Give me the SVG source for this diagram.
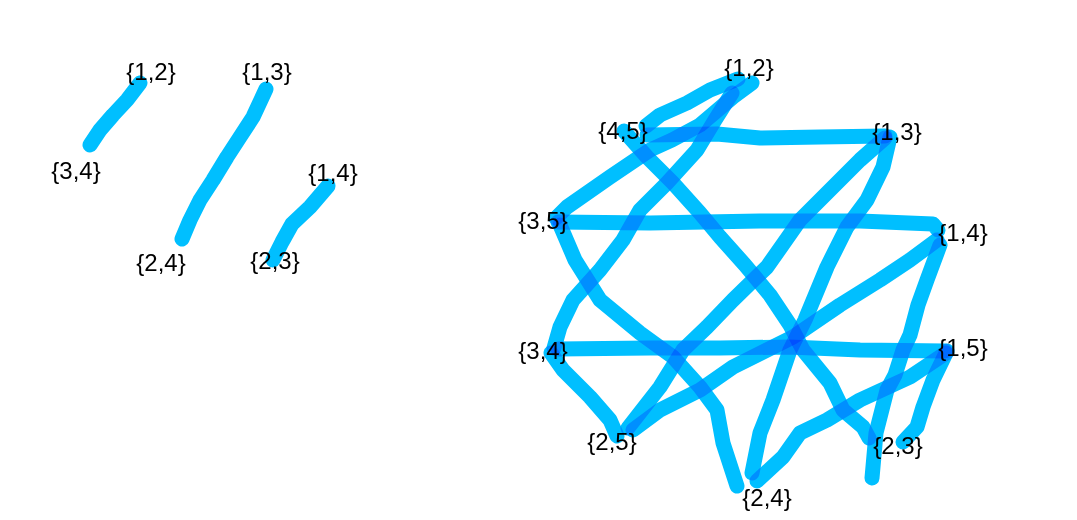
<svg xmlns="http://www.w3.org/2000/svg" width="1077" height="520" viewBox="0 0 1077 520">
<style>
.e{fill:none;stroke:#00BFFF;stroke-width:15;stroke-linecap:round;stroke-linejoin:round;mix-blend-mode:multiply}
.t{font-family:"Liberation Sans",Arial,sans-serif;font-size:24px;fill:#000;text-anchor:middle}
</style>
<rect width="1077" height="520" fill="#fff"/>
<g id="connectors">
<!-- left K(4,2) -->
<polyline class="e" points="140,83 127,100 113,115 100,130 90,145"/>
<polyline class="e" points="266,89 253,117 240,137 227,157 213,180 200,200 190,220 182,239"/>
<polyline class="e" points="328,186 310,207 292,224 282,242 273,260"/>
<!-- right Petersen -->
<polyline class="e" points="732,93 715,120 697,150 667,183 640,210 623,240 600,270 573,300 560,327 554,348"/>
<polyline class="e" points="752,83 733,97 700,125 672,140 650,150 610,177 567,207 556,218"/>
<polyline class="e" points="646,126 660,115 687,103 710,90 738,79"/>
<polyline class="e" points="890,137 883,167 867,200 847,227 827,267 805,320 790,350 773,400 760,433 752,473"/>
<polyline class="e" points="885,138 860,160 827,193 800,220 767,267 733,300 707,327 683,350 660,387 628,428"/>
<polyline class="e" points="647,135 717,134 760,138 820,137 885,136"/>
<polyline class="e" points="940,245 927,280 918,305 910,335 903,350 895,375 887,390 876,433 872,478"/>
<polyline class="e" points="937,240 910,260 880,280 840,305 793,337 733,367 700,390 660,410 633,430"/>
<polyline class="e" points="558,222 650,223 760,221 860,221 933,224 938,230"/>
<polyline class="e" points="947,351 933,380 923,407 917,427 903,442"/>
<polyline class="e" points="946,353 910,377 860,400 827,420 800,433 783,457 757,481"/>
<polyline class="e" points="558,349 650,348 720,348 790,347 860,350 945,351"/>
<polyline class="e" points="624,131 647,157 673,183 700,213 720,237 745,265 770,295 790,325 803,350 830,383 843,410 863,427 869,438"/>
<polyline class="e" points="560,225 575,260 600,300 640,333 673,357 700,387 717,410 723,443 737,486"/>
<polyline class="e" points="551,353 563,370 590,397 610,420 617,436"/>
</g>
<g id="n-l12"><text class="t" x="151" y="80">{1,2}</text></g>
<g id="n-l13"><text class="t" x="267" y="80">{1,3}</text></g>
<g id="n-l34"><text class="t" x="76" y="179">{3,4}</text></g>
<g id="n-l14"><text class="t" x="333" y="181">{1,4}</text></g>
<g id="n-l24"><text class="t" x="161" y="271">{2,4}</text></g>
<g id="n-l23"><text class="t" x="275" y="269">{2,3}</text></g>
<g id="n-r12"><text class="t" x="749" y="76">{1,2}</text></g>
<g id="n-r45"><text class="t" x="623" y="139">{4,5}</text></g>
<g id="n-r13"><text class="t" x="897" y="140">{1,3}</text></g>
<g id="n-r35"><text class="t" x="543" y="229">{3,5}</text></g>
<g id="n-r14"><text class="t" x="963" y="241">{1,4}</text></g>
<g id="n-r34"><text class="t" x="543" y="359">{3,4}</text></g>
<g id="n-r15"><text class="t" x="963" y="356">{1,5}</text></g>
<g id="n-r25"><text class="t" x="612" y="450">{2,5}</text></g>
<g id="n-r23"><text class="t" x="898" y="454">{2,3}</text></g>
<g id="n-r24"><text class="t" x="767" y="506">{2,4}</text></g>
</svg>
